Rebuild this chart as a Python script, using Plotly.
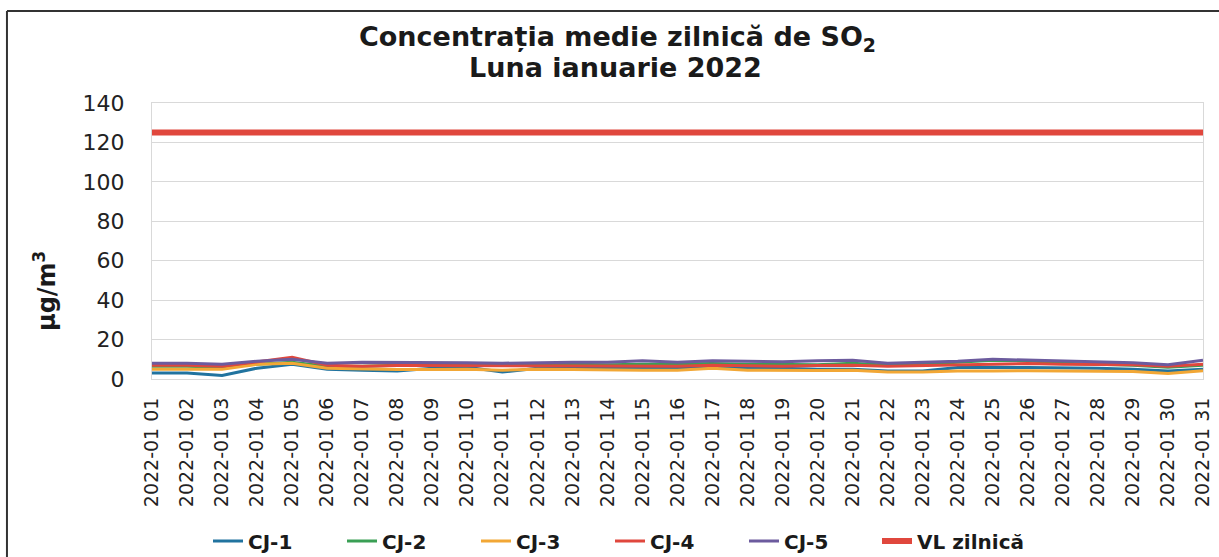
import plotly.graph_objects as go

# zilele lunii ianuarie 2022
days = ['2022-01 %02d' % d for d in range(1, 32)]

cj1 = [3.0, 3.0, 1.8, 5.5, 7.5, 5.0, 4.5, 4.0, 5.5, 6.0, 3.5, 5.5, 5.5, 5.8, 5.8, 5.5,
       6.0, 5.5, 5.5, 5.0, 5.0, 4.0, 4.0, 5.8, 6.0, 5.8, 5.8, 5.5, 5.0, 4.0, 5.0]
cj2 = [6.5, 6.5, 6.0, 7.5, 8.5, 6.5, 6.5, 7.0, 7.0, 7.2, 7.0, 7.8, 7.5, 7.2, 7.5, 7.8,
       7.8, 7.5, 7.4, 7.2, 8.0, 7.0, 7.5, 8.5, 9.5, 9.3, 8.0, 7.5, 7.0, 6.0, 7.0]
cj3 = [5.0, 5.0, 5.0, 7.5, 8.0, 5.5, 5.0, 4.8, 4.8, 5.0, 4.5, 5.0, 4.8, 4.5, 4.5, 4.5,
       5.5, 4.5, 4.3, 4.3, 4.5, 3.5, 3.5, 4.0, 4.0, 4.2, 4.0, 4.0, 3.8, 2.8, 4.2]
cj4 = [7.0, 7.0, 6.5, 8.8, 11.0, 7.0, 6.5, 6.8, 6.8, 6.5, 6.5, 6.7, 6.8, 6.5, 6.8, 6.5,
       7.0, 6.8, 6.5, 6.8, 7.0, 6.5, 6.8, 7.2, 7.5, 7.8, 7.5, 7.5, 7.2, 6.5, 7.5]
cj5 = [8.0, 8.0, 7.5, 9.0, 10.0, 8.0, 8.5, 8.5, 8.5, 8.3, 8.0, 8.3, 8.5, 8.5, 9.2, 8.5,
       9.2, 9.0, 8.8, 9.2, 9.5, 8.0, 8.5, 9.0, 10.0, 9.5, 9.0, 8.7, 8.3, 7.2, 9.5]
vl = [125] * 31  # valoarea limita zilnica

series = [
    ('CJ-1', cj1, '#21739f', 3, 'legend'),
    ('CJ-2', cj2, '#3a9f55', 3, 'legend'),
    ('CJ-3', cj3, '#f2a735', 3, 'legend'),
    ('CJ-4', cj4, '#e0473d', 3, 'legend'),
    ('CJ-5', cj5, '#6c5b9e', 3, 'legend'),
    ('VL zilnică', vl, '#e0473d', 6, 'legend2'),
]

FONT = 'DejaVu Sans, Arial, sans-serif'

fig = go.Figure()
for name, vals, color, w, leg in series:
    fig.add_trace(go.Scatter(x=days, y=vals, mode='lines', name=name, legend=leg,
                             line=dict(color=color, width=w)))

leg_font = dict(size=20, color='#1a1a1a', weight='bold')
fig.update_layout(
    width=1219, height=557,
    margin=dict(l=152, r=16, t=103, b=178),
    paper_bgcolor='white', plot_bgcolor='white',
    font=dict(family=FONT, color='#222'),
    showlegend=True,
    legend=dict(orientation='h', xref='container', yref='container',
                x=208 / 1219, xanchor='left', y=(557 - 541) / 557, yanchor='middle',
                font=leg_font, entrywidth=89, entrywidthmode='pixels', tracegroupgap=0),
    legend2=dict(orientation='h', xref='container', yref='container',
                 x=877 / 1219, xanchor='left', y=(557 - 541) / 557, yanchor='middle',
                 font=leg_font),
)

fig.update_xaxes(type='category', range=[0, 30], tickangle=-90, automargin=False,
                 tickfont=dict(size=19, color='#222'), ticks='',
                 showgrid=False, showline=True, linecolor='#d9d9d9', mirror=True,
                 ticklabelstandoff=10)
fig.update_yaxes(range=[0, 140], dtick=20, automargin=False,
                 tickfont=dict(size=22, color='#222'),
                 showgrid=True, gridcolor='#d9d9d9', zeroline=False,
                 showline=True, linecolor='#d9d9d9', mirror=True,
                 ticklabelstandoff=22)

# titlul pe doua randuri
fig.add_annotation(text='<b>Concentrația medie zilnică de SO<sub>2</sub></b>',
                   xref='paper', yref='paper', x=(617 - 152) / 1051, y=(379 - 38) / 276,
                   xanchor='center', yanchor='middle', showarrow=False,
                   font=dict(size=27, color='#1a1a1a'))
fig.add_annotation(text='<b>Luna ianuarie 2022</b>',
                   xref='paper', yref='paper', x=(615 - 152) / 1051, y=(379 - 67) / 276,
                   xanchor='center', yanchor='middle', showarrow=False,
                   font=dict(size=27, color='#1a1a1a'))

# titlul axei Y
fig.add_annotation(text='<b>µg/m<sup>3</sup></b>', xref='paper', yref='paper',
                   x=(45 - 152) / 1051, y=(379 - 291) / 276, xanchor='center', yanchor='middle',
                   textangle=-90, showarrow=False,
                   font=dict(size=24, color='#1a1a1a'))

# chenarul exterior al graficului
fig.add_shape(type='line', xref='paper', yref='paper', x0=-0.138, x1=-0.138, y0=1.333, y1=-0.7,
              line=dict(color='#333', width=2))
fig.add_shape(type='line', xref='paper', yref='paper', x0=-0.138, x1=1.02, y0=1.333, y1=1.333,
              line=dict(color='#333', width=2))

# pagina fara marginea implicita a body-ului
fig.write_html("out.html", config={'displayModeBar': False},
               post_script="document.body.style.margin='0';")
